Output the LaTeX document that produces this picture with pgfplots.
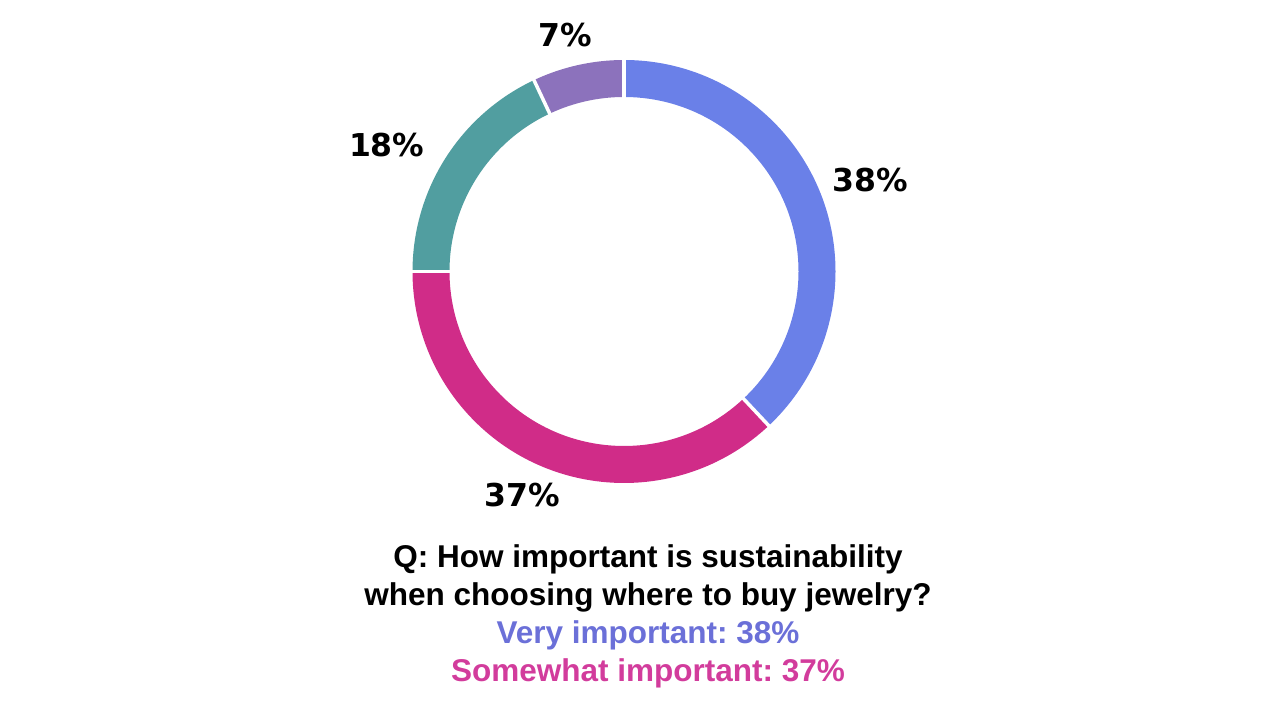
\documentclass[border=0pt]{standalone}
\usepackage{pgfplots}
\usepackage{pgfplotstable}
\pgfplotsset{compat=1.18}
\usepackage{fontspec}
\setmainfont{Liberation Sans}
\newfontfamily\pctfont{DejaVu Sans}
\frenchspacing

\definecolor{cVery}{HTML}{6A80E8}
\definecolor{cSome}{HTML}{D02C88}
\definecolor{cNot}{HTML}{519EA0}
\definecolor{cUns}{HTML}{8C72BC}
\definecolor{tVery}{HTML}{6B70D8}
\definecolor{tSome}{HTML}{D23C9C}

% share of answers, clockwise from the top; la/r = where the label sits
\pgfplotstableread{
label value col la r
Very 38 cVery 20.3 263
Somewhat 37 cSome -114.5 246
Not 18 cNot 151.9 269
Unsure 7 cUns 104 244
}\donut

\begin{document}
\begin{tikzpicture}
\begin{axis}[
  width=1280pt, height=720pt, scale only axis,
  xmin=0, xmax=1280, ymin=0, ymax=720,
  hide axis, clip=false]
  \addplot[draw=none] coordinates {(0,0) (1280,720)};
  \pgfplotsextra{
    \gdef\startang{90}
    \foreach \i in {0,...,3}{
      \pgfplotstablegetelem{\i}{value}\of\donut \let\v\pgfplotsretval
      \pgfplotstablegetelem{\i}{col}\of\donut \let\c\pgfplotsretval
      \pgfplotstablegetelem{\i}{la}\of\donut \let\la\pgfplotsretval
      \pgfplotstablegetelem{\i}{r}\of\donut \let\r\pgfplotsretval
      \pgfmathsetmacro\endang{\startang-3.6*\v}
      \draw[color=\c, line width=37pt, shift={(axis cs:624,448.5)}]
        (\startang:193pt) arc[start angle=\startang, end angle=\endang, radius=193pt];
      \node[inner sep=0pt, font=\pctfont\bfseries\fontsize{31.5}{31.5}\selectfont,
            shift={(axis cs:624,448.5)}] at (\la:\r pt) {\v\%};
      \xdef\startang{\endang}
    }
    \gdef\startang{90}
    \foreach \i in {0,...,3}{
      \pgfplotstablegetelem{\i}{value}\of\donut \let\v\pgfplotsretval
      \draw[white, line width=3.5pt, shift={(axis cs:624,448.5)}]
        (\startang:168pt) -- (\startang:218pt);
      \pgfmathsetmacro\endang{\startang-3.6*\v}
      \xdef\startang{\endang}
    }
  }
  \node[align=center, font=\bfseries\fontsize{31.5}{38}\selectfont]
    at (axis cs:648,104) {Q: How important is sustainability\\
    when choosing where to buy jewelry?\\
    \textcolor{tVery}{Very important: 38\%}\\
    \textcolor{tSome}{Somewhat important: 37\%}};
\end{axis}
\end{tikzpicture}
\end{document}
